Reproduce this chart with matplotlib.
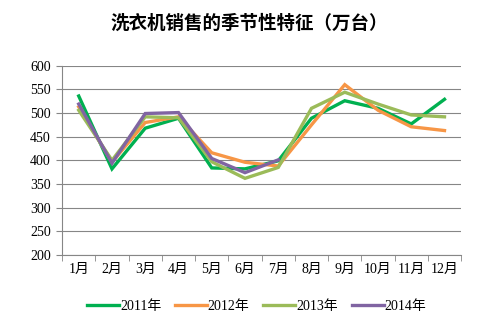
import numpy as np
import matplotlib
matplotlib.use('Agg')
import matplotlib.pyplot as plt
from matplotlib.ticker import FixedLocator, NullFormatter

plt.rcParams['font.family'] = ['Liberation Serif', 'Noto Sans CJK SC']

months = ['1月', '2月', '3月', '4月', '5月', '6月', '7月', '8月', '9月', '10月', '11月', '12月']
y2011 = [536, 382, 468, 489, 384, 382, 399, 489, 526, 510, 477, 529]
y2012 = [513, 396, 480, 492, 416, 396, 388, 475, 560, 506, 471, 463]
y2013 = [506, 400, 492, 490, 397, 362, 385, 510, 544, 519, 496, 492]
y2014 = [519, 394, 499, 501, 404, 374, 401]
labels = ['2011年', '2012年', '2013年', '2014年']
colors = ['#00B050', '#F79646', '#9BBB59', '#8064A2']

fig = plt.figure(figsize=(4.89, 3.32), dpi=100)
ax = fig.add_axes([0.127, 0.232, 0.816, 0.570])

x = np.arange(len(months))
for vals, lab, c in zip([y2011, y2012, y2013, y2014], labels, colors):
    ax.plot(x[:len(vals)], vals, color=c, lw=2.4, label=lab, solid_joinstyle='miter')

ax.set_xlim(-0.5, 11.5)
ax.set_ylim(200, 600)
ax.set_yticks(range(200, 601, 50))
ax.yaxis.grid(True, color='#868686', lw=0.8)
ax.set_axisbelow(True)

ax.set_xticks(x)
ax.set_xticklabels(months)
ax.xaxis.set_minor_locator(FixedLocator(np.arange(-0.5, 12, 1)))
ax.xaxis.set_minor_formatter(NullFormatter())
ax.tick_params(axis='x', which='major', length=0, labelsize=10, pad=6)
ax.tick_params(axis='x', which='minor', length=4, color='#868686', direction='out')
ax.tick_params(axis='y', length=4, color='#868686', labelsize=10, pad=4)

for s in ['top', 'right']:
    ax.spines[s].set_visible(False)
for s in ['left', 'bottom']:
    ax.spines[s].set_color('#868686')
    ax.spines[s].set_linewidth(0.8)

fig.text(0.51, 0.93, '洗衣机销售的季节性特征（万台）', ha='center', va='center',
         fontsize=13.3, fontweight='bold', family=['Noto Sans CJK SC'])

fig.legend(loc='center', bbox_to_anchor=(0.525, 0.077), ncol=4, frameon=False,
           fontsize=10, handlelength=2.3, handletextpad=0.05, columnspacing=1.0)

fig.savefig('out.png', dpi=100)
